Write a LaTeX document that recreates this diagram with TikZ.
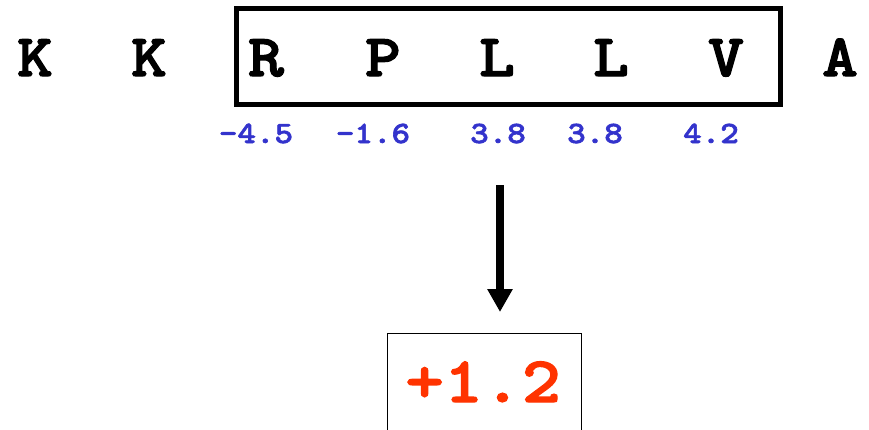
\documentclass[tikz,border=0pt]{standalone}
\usepackage{fontspec}
\newfontfamily\courfont[FakeStretch=1.14,FakeBold=2]{lmmonolt10-bold.otf}
\usetikzlibrary{arrows.meta}
\definecolor{numblue}{RGB}{51,51,204}
\definecolor{resred}{RGB}{255,51,0}
\tikzset{
  res/.style={font=\courfont\fontsize{60}{60}\selectfont, anchor=base, inner sep=0pt},
  hyd/.style={font=\courfont\fontsize{31}{31}\selectfont, text=numblue, anchor=base, inner sep=0pt},
  winbox/.style={draw=black, line width=5pt},
  resbox/.style={draw=black, line width=1.5pt},
  bigarrow/.style={line width=8pt, -{Triangle[length=23pt,width=24pt]}},
}
\begin{document}
\begin{tikzpicture}[x=1pt,y=-1pt]
\useasboundingbox (0,0) rectangle (869,429);
\clip (0,0) rectangle (869,429);
\node[res] (k1) at (35,76) {K};
\node[res] (k2) at (149,76) {K};
\node[res] (r) at (266,76) {R};
\node[res] (p) at (383,76) {P};
\node[res] (l1) at (497,76) {L};
\node[res] (l2) at (611,76) {L};
\node[res] (v) at (726,76) {V};
\node[res] (a) at (840,76) {A};
\draw[winbox] (236,8.5) rectangle (780,104.5);
\node[hyd] (h1) at (256,143) {-4.5};
\node[hyd] (h2) at (373,143) {-1.6};
\node[hyd] (h3) at (498,143) {3.8};
\node[hyd] (h4) at (595,143) {3.8};
\node[hyd] (h5) at (711,143) {4.2};
\coordinate (astart) at (500,185);
\coordinate (aend) at (500,312);
\draw[bigarrow] (astart) -- (aend);
\draw[resbox] (387.5,333.5) rectangle (581.5,450);
\node[font=\courfont\fontsize{65}{65}\selectfont, text=resred, anchor=base, inner sep=0pt] (sum) at (483,402) {+1.2};
\end{tikzpicture}
\end{document}
